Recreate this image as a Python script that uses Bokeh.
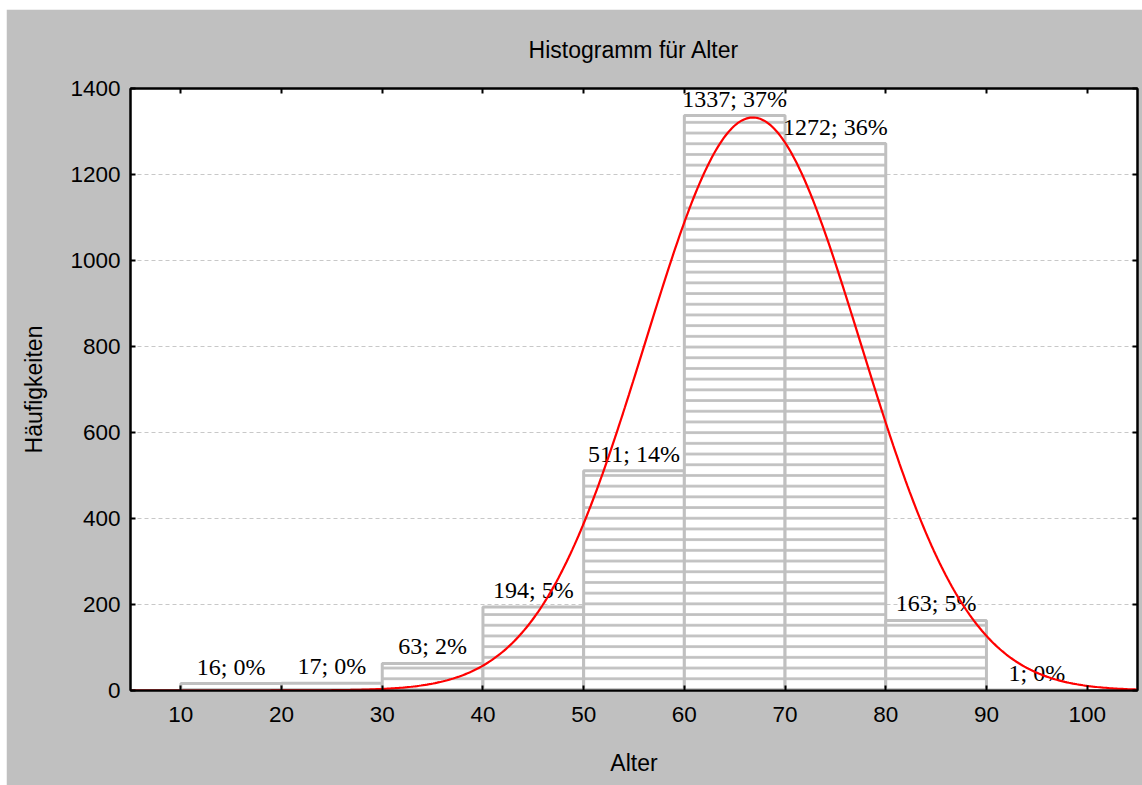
import numpy as np
from bokeh.plotting import figure
from bokeh.models import ColumnDataSource, LinearAxis, FixedTicker, CustomLabelingPolicy
from bokeh.core.properties import value
from bokeh.embed import file_html
from bokeh.resources import INLINE

# ---- data ----
bin_left = [10, 20, 30, 40, 50, 60, 70, 80, 90]
bin_right = [20, 30, 40, 50, 60, 70, 80, 90, 100]
counts = [16, 17, 63, 194, 511, 1337, 1272, 163, 1]
x_ticks = [10, 20, 30, 40, 50, 60, 70, 80, 90, 100]
y_ticks = [0, 200, 400, 600, 800, 1000, 1200, 1400]
fit_mean = 66.8   # fitted normal curve parameters
fit_sd = 10.7

total = sum(counts)
labels = [f"{c}; {round(100 * c / total)}%" for c in counts]
centers = [(a + b) / 2 for a, b in zip(bin_left, bin_right)]
bin_w = bin_right[0] - bin_left[0]

GRAY = "#c0c0c0"

p = figure(width=1136, height=776, x_range=(5, 105), y_range=(0, 1400),
           output_backend="svg", toolbar_location=None,
           min_border_left=124, min_border_right=5, min_border_top=78,
           min_border_bottom=95, background_fill_color="white",
           border_fill_color=GRAY, outline_line_color="black",
           outline_line_width=2, x_axis_location=None, y_axis_location=None)
p.margin = (9, 0, 0, 6)

p.title.text = "Histogramm für Alter"
p.title.align = "center"
p.title.text_font = "Liberation Sans"
p.title.text_font_size = "23px"
p.title.text_font_style = "normal"
p.title.text_color = "black"
p.title.standoff = 51

def mk_axis(show_labels, ticks, standoff):
    ax = LinearAxis(ticker=FixedTicker(ticks=ticks))
    ax.axis_line_color = "black"
    ax.axis_line_width = 2
    ax.major_tick_in = 5
    ax.major_tick_out = 0
    ax.major_tick_line_width = 2
    ax.minor_tick_line_color = None
    ax.major_label_text_font = "Liberation Sans"
    ax.major_label_text_font_size = "22.5px" if show_labels else "0px"
    ax.major_label_text_color = "black"
    ax.major_label_standoff = standoff
    if not show_labels:
        ax.major_label_policy = CustomLabelingPolicy(code="return []")
    ax.axis_label_text_font = "Liberation Sans"
    ax.axis_label_text_font_size = "23px"
    ax.axis_label_text_font_style = "normal"
    ax.axis_label_text_color = "black"
    ax.axis_label_standoff = 25
    return ax

xb = mk_axis(True, x_ticks, 16); xb.axis_label = "Alter"
yl = mk_axis(True, y_ticks, 10); yl.axis_label = "Häufigkeiten"
yl.axis_label_standoff = 20
xt = mk_axis(False, x_ticks, 0)
yr = mk_axis(False, y_ticks, 0)
p.add_layout(xb, "below")
p.add_layout(yl, "left")
p.add_layout(xt, "above")
p.add_layout(yr, "right")

p.xgrid.grid_line_color = None
p.ygrid.ticker = FixedTicker(ticks=y_ticks)
p.ygrid.grid_line_color = "#c8c8c8"
p.ygrid.grid_line_dash = "4 3"
p.ygrid.grid_line_width = 1

src = ColumnDataSource(dict(left=bin_left, right=bin_right, top=counts,
                            cx=centers, label=labels))
p.quad(left="left", right="right", bottom=0, top="top", source=src,
       fill_color="white", line_color=GRAY, line_width=3,
       hatch_pattern="horizontal_line", hatch_color=GRAY,
       hatch_scale=10.7, hatch_weight=2.7)

p.text(x="cx", y="top", text="label", source=src,
       text_font=value("Liberation Serif"), text_font_size="24px",
       text_color="black", text_align="center", text_baseline="alphabetic",
       y_offset=-17)

xs = np.linspace(5, 105, 500)
ys = total * bin_w / (fit_sd * np.sqrt(2 * np.pi)) * np.exp(-0.5 * ((xs - fit_mean) / fit_sd) ** 2)
p.line(xs, ys, line_color="red", line_width=2.2)

open("out.html", "w").write(file_html(p, INLINE))
